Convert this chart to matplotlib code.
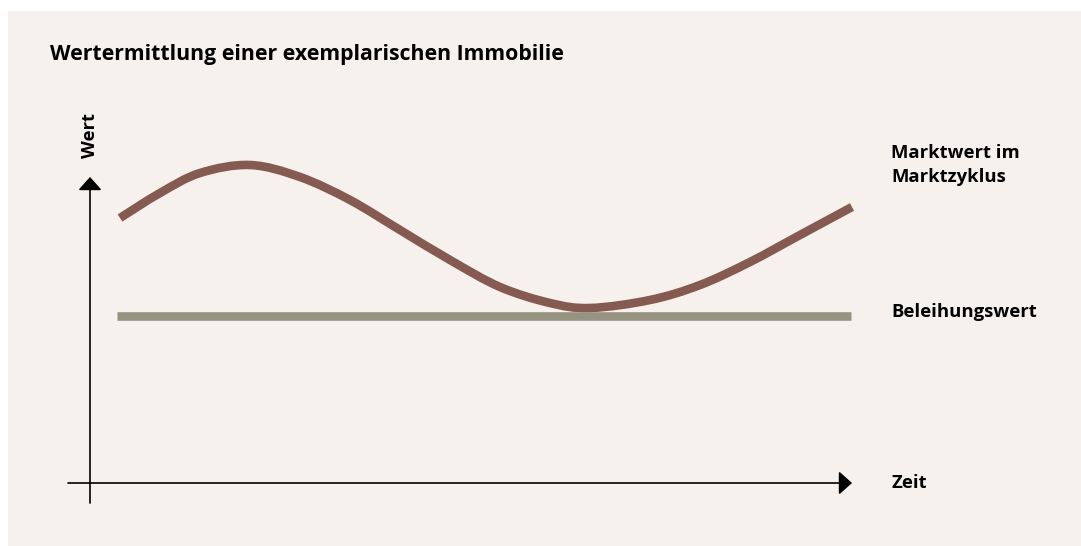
import matplotlib
matplotlib.use("Agg")
import matplotlib.pyplot as plt
import numpy as np
from matplotlib.patches import Rectangle, PathPatch
from matplotlib.path import Path

# Marktwert im Marktzyklus (time, value)
time_pts = [30, 70, 110, 160, 210, 260, 310, 360, 410, 460, 500, 560, 610, 660, 710, 762]
market_vals = [265, 290, 310, 318, 306, 283, 253, 223, 196, 180, 175, 183, 198, 221, 248, 276]

# Beleihungswert (constant)
lending_time = [27, 761]
lending_vals = [167, 167]

title = "Wertermittlung einer exemplarischen Immobilie"
label_market = "Marktwert im\nMarktzyklus"
label_lending = "Beleihungswert"
x_label = "Zeit"
y_label = "Wert"

bg = "#f6f1ed"
c_market = "#855a51"
c_lending = "#979381"

plt.rcParams['font.family'] = ['Open Sans', 'DejaVu Sans']

fig = plt.figure(figsize=(10.81, 5.46), dpi=100)
fig.patch.set_facecolor("white")

ax = fig.add_axes([0, 0, 1, 1])
ax.set_xlim(-90, 991)
ax.set_ylim(-63, 483)
ax.axis("off")

# beige panel
ax.add_patch(Rectangle((8 / 1081, 0), 1, (546 - 11) / 546,
                       transform=fig.transFigure, facecolor=bg,
                       edgecolor="none", zorder=-1, clip_on=False))

# axes with arrows
arrow = dict(arrowstyle="-|>,head_length=0.8,head_width=0.72", color="black",
             lw=1.2, shrinkA=0, shrinkB=0, mutation_scale=10)
ax.annotate("", xy=(762, 0), xytext=(-22, 0), arrowprops=arrow)
ax.annotate("", xy=(0, 306), xytext=(0, -20), arrowprops=arrow)

ax.plot(lending_time, lending_vals, color=c_lending, lw=6.2, solid_capstyle="butt")

# smooth curve through the points (Catmull-Rom as bezier segments)
pts = np.column_stack([time_pts, market_vals]).astype(float)
ext = np.vstack([pts[0], pts, pts[-1]])
verts = [pts[0]]
codes = [Path.MOVETO]
for i in range(1, len(ext) - 2):
    p0, p1, p2, p3 = ext[i - 1], ext[i], ext[i + 1], ext[i + 2]
    verts += [p1 + (p2 - p0) / 6, p2 - (p3 - p1) / 6, p2]
    codes += [Path.CURVE4] * 3
ax.add_patch(PathPatch(Path(verts, codes), fill=False, edgecolor=c_market,
                       lw=6.2, capstyle="butt"))

ax.text(-40, 423, title, fontsize=15.3, fontweight="bold", va="baseline", ha="left")
ax.text(801, 318, label_market, fontsize=13.3, fontweight="bold", va="center",
        ha="left", linespacing=1.4)
ax.text(801, 171, label_lending, fontsize=13.3, fontweight="bold", va="center", ha="left")
ax.text(801, 0, x_label, fontsize=13.3, fontweight="bold", va="center", ha="left")
ax.text(0, 348, y_label, fontsize=13.3, fontweight="bold", va="center", ha="center",
        rotation=90)

fig.savefig("out.png", dpi=100, facecolor=fig.get_facecolor())
